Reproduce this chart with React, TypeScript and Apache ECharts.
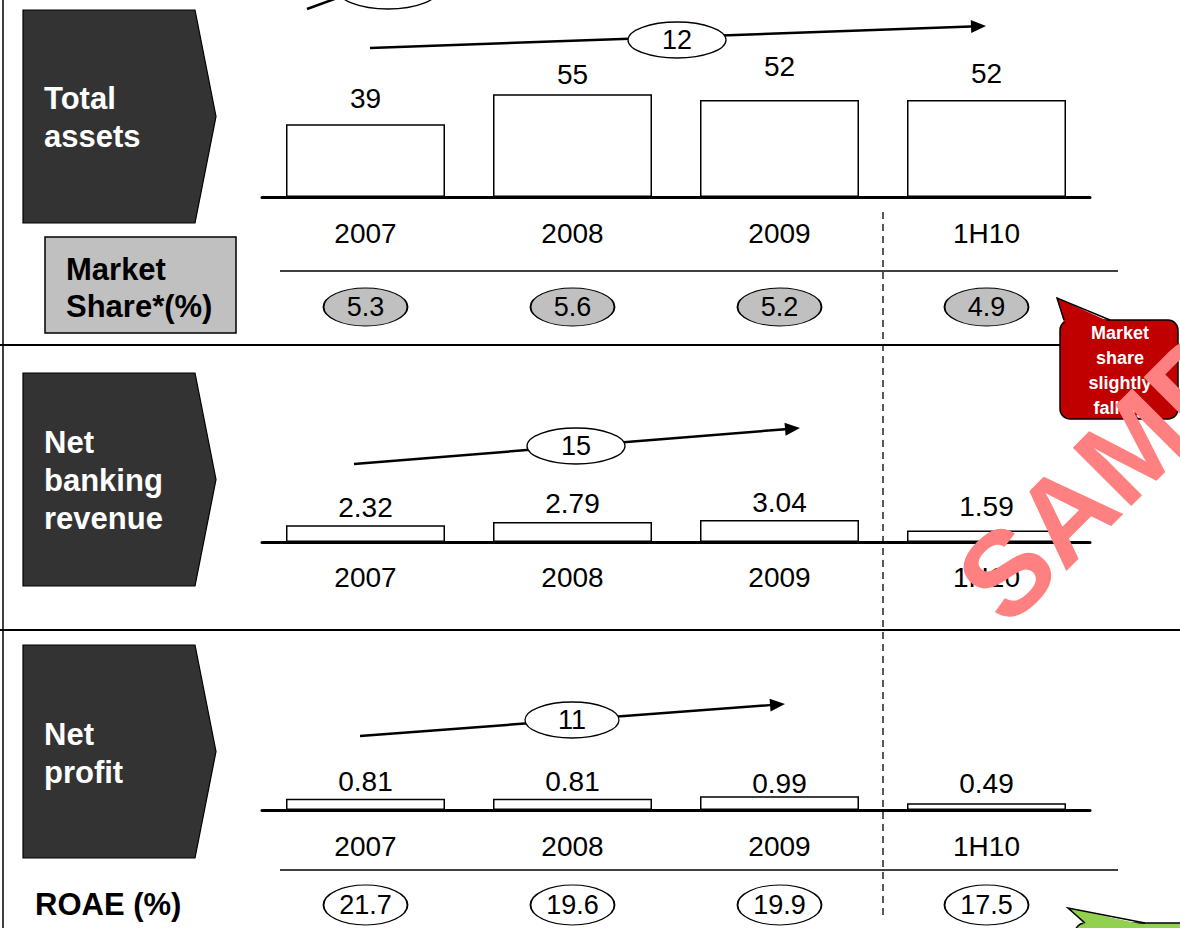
import React, { useEffect, useRef } from "react";
import * as echarts from "echarts";

const FONT = "'Liberation Sans', Arial, sans-serif";

const categories = ["2007", "2008", "2009", "1H10"];
const totalAssets = [39, 55, 52, 52];
const marketShare = [5.3, 5.6, 5.2, 4.9];
const netBankingRevenue = [2.32, 2.79, 3.04, 1.59];
const netProfit = [0.81, 0.81, 0.99, 0.49];
const roae = [21.7, 19.6, 19.9, 17.5];
const cagrTotalAssets = "12";
const cagrRevenue = "15";
const cagrProfit = "11";

// label vertical nudges (layout only)
const shift1 = [0, 6, -7, 0];
const shift2 = [0, 0, 0, -6];
const shift3 = [0, 0, 4, -3];

const ellipsePath = "path://M0,20 A40,20 0 1,1 80,20 A40,20 0 1,1 0,20 Z";

function barSeries(values: number[], shifts: number[], idx: number, distance: number) {
  return {
    type: "bar",
    xAxisIndex: idx,
    yAxisIndex: idx,
    barWidth: 159,
    data: values.map((v, i) => ({
      value: v,
      label: { offset: [0, shifts[i]] },
    })),
    itemStyle: { color: "#ffffff", borderColor: "#000000", borderWidth: 1.5 },
    label: {
      show: true,
      position: "top",
      distance,
      fontSize: 28,
      color: "#000",
      fontFamily: FONT,
    },
  };
}

function ovalSeries(values: number[], idx: number, fill: string, size: number[]) {
  return {
    type: "scatter",
    xAxisIndex: idx,
    yAxisIndex: idx,
    symbol: ellipsePath,
    symbolSize: size,
    data: values.map((v, i) => [categories[i], 0.5, v]),
    itemStyle: { color: fill, borderColor: "#000", borderWidth: 1.3, opacity: 1 },
    label: {
      show: true,
      position: "inside",
      formatter: (p: any) => String(p.value[2]),
      fontSize: 27,
      color: "#000",
      fontFamily: FONT,
    },
  };
}

function catAxis(idx: number, show: boolean, margin: number) {
  return {
    type: "category",
    gridIndex: idx,
    data: categories,
    show,
    axisTick: { show: false },
    axisLine: { show, lineStyle: { color: "#000", width: 3 } },
    axisLabel: { show, fontSize: 28, color: "#000", fontFamily: FONT, margin },
    splitLine: { show: false },
  };
}

function valAxis(idx: number, max: number) {
  return { type: "value", gridIndex: idx, min: 0, max, show: false, splitLine: { show: false } };
}

function darkBox(top: number, bottom: number) {
  const mid = (top + bottom) / 2;
  return {
    type: "polygon",
    shape: { points: [[23, top], [195, top], [216, mid], [195, bottom], [23, bottom]] },
    style: { fill: "#333333", stroke: "#000", lineWidth: 1.2 },
  };
}

function boxText(text: string, x: number, y: number, color: string, size: number, lh: number) {
  return {
    type: "text",
    x,
    y,
    style: {
      text,
      fill: color,
      font: `bold ${size}px ${FONT}`,
      lineHeight: lh,
      verticalAlign: "top",
      align: "left",
    },
  };
}

function growthArrow(x1: number, y1: number, x2: number, y2: number, cx: number, cy: number, rx: number, label: string) {
  const dx = x2 - x1;
  const dy = y2 - y1;
  const len = Math.sqrt(dx * dx + dy * dy);
  const ux = dx / len;
  const uy = dy / len;
  const bx = x2 - ux * 15;
  const by = y2 - uy * 15;
  const px = -uy * 6.5;
  const py = ux * 6.5;
  return [
    {
      type: "line",
      shape: { x1, y1, x2: bx, y2: by },
      style: { stroke: "#000", lineWidth: 2.5 },
    },
    {
      type: "polygon",
      shape: { points: [[x2, y2], [bx + px, by + py], [bx - px, by - py]] },
      style: { fill: "#000" },
    },
    {
      type: "ellipse",
      shape: { cx, cy, rx, ry: 18 },
      style: { fill: "#fff", stroke: "#000", lineWidth: 1.3 },
    },
    {
      type: "text",
      x: cx,
      y: cy,
      style: { text: label, fill: "#000", font: `27px ${FONT}`, align: "center", verticalAlign: "middle" },
    },
  ];
}

export default function App() {
  const ref = useRef<HTMLDivElement>(null);
  useEffect(() => {
    if (!ref.current) return;
    const chart = echarts.init(ref.current, undefined, { renderer: "svg" });
    const graphics: any[] = [
      // frame lines
      { type: "line", shape: { x1: 3, y1: 0, x2: 3, y2: 928 }, style: { stroke: "#000", lineWidth: 1.5 } },
      { type: "line", shape: { x1: 0, y1: 345, x2: 1180, y2: 345 }, style: { stroke: "#000", lineWidth: 2 } },
      { type: "line", shape: { x1: 0, y1: 630, x2: 1180, y2: 630 }, style: { stroke: "#000", lineWidth: 2 } },
      // separator lines under categories
      { type: "line", shape: { x1: 280, y1: 271, x2: 1118, y2: 271 }, style: { stroke: "#000", lineWidth: 1.5 } },
      { type: "line", shape: { x1: 280, y1: 870, x2: 1118, y2: 870 }, style: { stroke: "#000", lineWidth: 1.5 } },
      // dashed divider
      {
        type: "line",
        shape: { x1: 883, y1: 212, x2: 883, y2: 915 },
        style: { stroke: "#000", lineWidth: 1.3, lineDash: [7, 5] },
      },
      // remnant from above
      { type: "line", shape: { x1: 307, y1: 9, x2: 340, y2: -3 }, style: { stroke: "#000", lineWidth: 2.5 } },
      { type: "ellipse", shape: { cx: 388, cy: -11, rx: 51, ry: 20 }, style: { fill: "#fff", stroke: "#000", lineWidth: 1.3 } },
      // dark label boxes
      darkBox(10, 223),
      boxText("Total\nassets", 44, 79, "#fff", 31, 38),
      darkBox(373, 586),
      boxText("Net\nbanking\nrevenue", 44, 423, "#fff", 31, 38),
      darkBox(645, 858),
      boxText("Net\nprofit", 44, 715, "#fff", 31, 38),
      // market share box
      {
        type: "rect",
        shape: { x: 45, y: 237, width: 191, height: 96 },
        style: { fill: "#c0c0c0", stroke: "#000", lineWidth: 1.5 },
      },
      boxText("Market\nShare*(%)", 66, 251, "#000", 31, 37),
      boxText("ROAE (%)", 35, 886, "#000", 31, 37),
      // growth arrows
      ...growthArrow(370, 48, 986, 26, 677, 40, 49, cagrTotalAssets),
      ...growthArrow(354, 464, 800, 428, 576, 446, 49, cagrRevenue),
      ...growthArrow(360, 736, 785, 704, 572, 720, 47, cagrProfit),
      // red callout
      {
        type: "rect",
        shape: { x: 1060, y: 320, width: 118, height: 99, r: 10 },
        style: { fill: "#c00000", stroke: "#000", lineWidth: 1.5 },
      },
      {
        type: "polygon",
        shape: { points: [[1064, 322], [1057, 298], [1110, 322]] },
        style: { fill: "#c00000" },
      },
      {
        type: "polyline",
        shape: { points: [[1064, 320], [1057, 298], [1110, 320]] },
        style: { stroke: "#000", lineWidth: 1.5, fill: null },
      },
      {
        type: "text",
        x: 1120,
        y: 320,
        style: {
          text: "Market\nshare\nslightly\nfalling",
          fill: "#fff",
          font: `bold 18px ${FONT}`,
          lineHeight: 25,
          align: "center",
          verticalAlign: "top",
        },
      },
      // green callout
      {
        type: "rect",
        shape: { x: 1075, y: 923, width: 140, height: 60, r: 10 },
        style: { fill: "#92d050", stroke: "#000", lineWidth: 1.5 },
      },
      {
        type: "polygon",
        shape: { points: [[1085, 925], [1068, 908], [1145, 925]] },
        style: { fill: "#92d050" },
      },
      {
        type: "polyline",
        shape: { points: [[1085, 923], [1068, 908], [1145, 923]] },
        style: { stroke: "#000", lineWidth: 1.5, fill: null },
      },
      // watermark
      {
        type: "text",
        x: 978,
        y: 600,
        rotation: (45 * Math.PI) / 180,
        z: 100,
        style: {
          text: "SAMPLE",
          fill: "#ff8080",
          font: `bold 120px ${FONT}`,
          align: "left",
          verticalAlign: "middle",
        },
      },
    ];

    chart.setOption({
      animation: false,
      backgroundColor: "#ffffff",
      grid: [
        { left: 262, width: 828, top: 85, height: 112 },
        { left: 262, width: 828, top: 288, height: 38 },
        { left: 262, width: 828, top: 506, height: 36 },
        { left: 262, width: 828, top: 782, height: 28 },
        { left: 262, width: 828, top: 885, height: 40 },
      ],
      xAxis: [
        catAxis(0, true, 22),
        catAxis(1, false, 0),
        catAxis(2, true, 21),
        catAxis(3, true, 22),
        catAxis(4, false, 0),
      ],
      yAxis: [valAxis(0, 60), valAxis(1, 1), valAxis(2, 5), valAxis(3, 2), valAxis(4, 1)],
      series: [
        barSeries(totalAssets, shift1, 0, 12),
        ovalSeries(marketShare, 1, "#c0c0c0", [84, 38]),
        barSeries(netBankingRevenue, shift2, 2, 4),
        barSeries(netProfit, shift3, 3, 3),
        ovalSeries(roae, 4, "#ffffff", [84, 40]),
      ],
      graphic: { elements: graphics },
    });
    return () => chart.dispose();
  }, []);

  return (
    <div
      ref={ref}
      style={{ position: "fixed", left: 0, top: 0, width: 1180, height: 928, background: "#fff" }}
    />
  );
}
